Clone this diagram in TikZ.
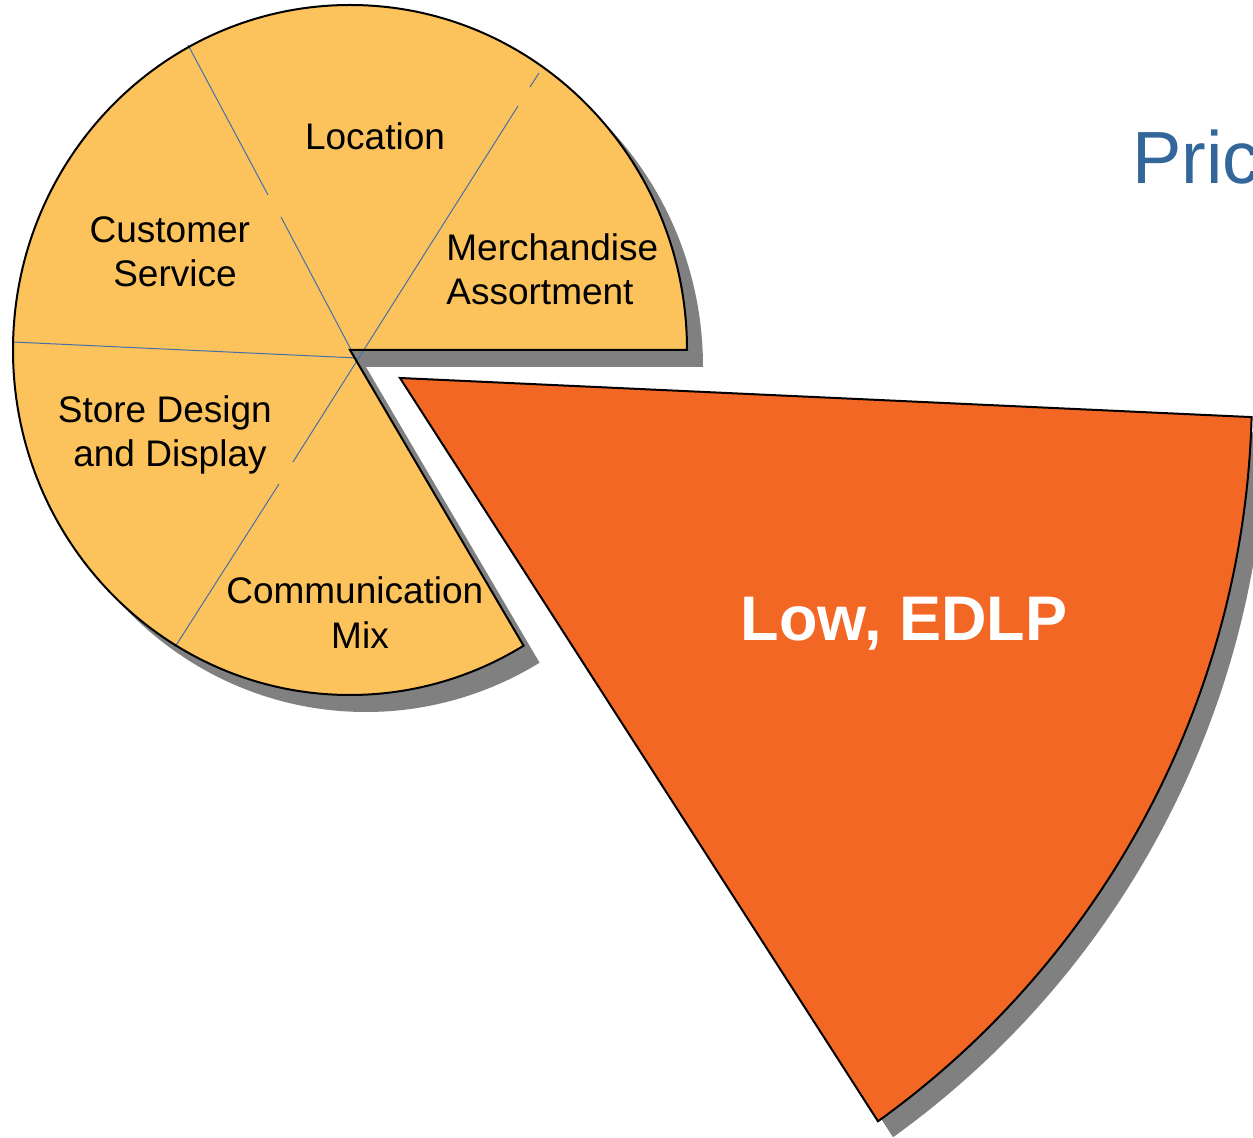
\documentclass[tikz,border=0pt]{standalone}
\usepackage{fontspec}
\setmainfont{Liberation Sans}
\definecolor{pieyellow}{HTML}{FCC25C}
\definecolor{hotorange}{HTML}{F36724}
\definecolor{dropgray}{HTML}{808080}
\definecolor{cutblue}{HTML}{4470A8}
\definecolor{titleblue}{HTML}{336699}

\begin{document}
\begin{tikzpicture}[x=0.5pt,y=0.5pt]
\tikzstyle{pieslice} = [fill=pieyellow]
\tikzstyle{pierim} = [draw=black, line width=1pt, line join=miter]
\tikzstyle{hotslice} = [draw=black, line width=1pt, fill=hotorange]
\tikzstyle{pieshade} = [fill=dropgray]
\tikzstyle{pieline} = [draw=cutblue, line width=0.5pt]
\tikzstyle{pietext} = [inner sep=0pt, font=\fontsize{18.5}{22.25}\selectfont]

\useasboundingbox (0,0) rectangle (1253,-1138);
\clip (0,0) rectangle (1253,-1138);

% shadows
\path[pieshade] (366,-367) -- (703,-367)
  arc[start angle=0, end angle=301, x radius=337, y radius=345] -- cycle;
\path[pieshade] (415,-394) -- (1266.6,-433.1)
  arc[start angle=-1.6, end angle=-54.3, radius=898] -- cycle;

% pie with one slice pulled out
\path[pieslice] (350,-350) -- (687,-350)
  arc[start angle=0, end angle=301, x radius=337, y radius=345] -- cycle;
\draw[pieline] (539,-73) -- (530,-87) (518,-106) -- (293,-462) (279,-484) -- (175,-647);
\draw[pieline] (188,-45) -- (268,-195) (281,-217) -- (357,-361);
\draw[pieline] (13,-342) -- (357,-358);
\path[pierim] (350,-350) -- (687,-350)
  arc[start angle=0, end angle=301, x radius=337, y radius=345] -- cycle;
\path[hotslice] (400,-378) -- (1251.6,-417.1)
  arc[start angle=-1.6, end angle=-54.3, radius=898] -- cycle;

% slice texts
\node[pietext, anchor=base] (location) at (375,-150) {Location};
\node[pietext, anchor=base, align=center] (service) at (175,-287) {Customer\kern.28em\\Service};
\node[pietext, anchor=base west, align=left] (assortment) at (446,-305) {Merchandise\\Assortment};
\node[pietext, anchor=base, align=center] (display) at (170,-467) {Store Design\kern.28em\\and Display};
\node[pietext, anchor=base, align=center] (mix) at (360,-648) {Communication\kern.28em\\Mix};
\node[anchor=base, inner sep=0pt, text=white, font=\bfseries\fontsize{31.5}{38}\selectfont] (edlp) at (904,-640) {Low, EDLP};

% title, cut by the page edge
\node[anchor=base west, inner sep=0pt, text=titleblue, font=\fontsize{37}{44}\selectfont] (price) at (1132,-184) {Price};
\end{tikzpicture}
\end{document}
